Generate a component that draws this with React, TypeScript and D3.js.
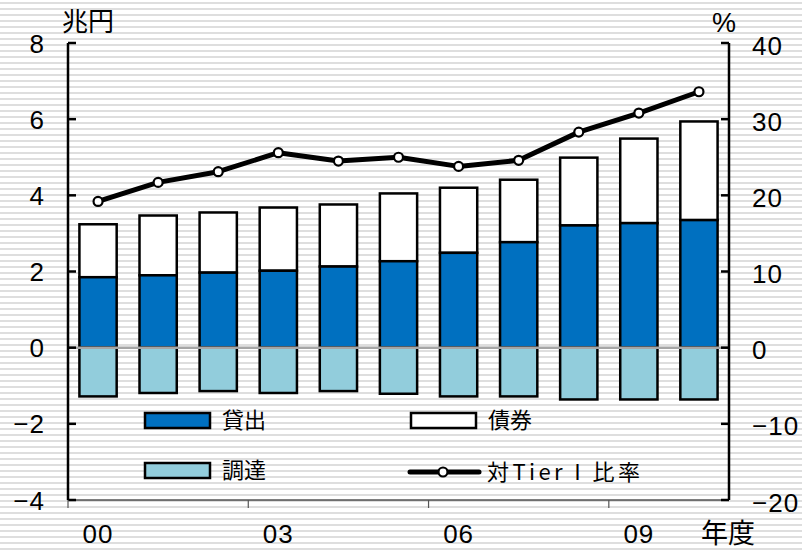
import React, { useRef, useEffect } from 'react';
import * as d3 from 'd3';

// 年度 2000-2010
const years = ['00', '01', '02', '03', '04', '05', '06', '07', '08', '09', '10'];
const lending = [1.85, 1.9, 1.97, 2.02, 2.13, 2.27, 2.49, 2.77, 3.21, 3.27, 3.35]; // 貸出
const bonds = [1.39, 1.57, 1.58, 1.66, 1.63, 1.78, 1.71, 1.64, 1.78, 2.22, 2.59]; // 債券
const funding = [-1.28, -1.19, -1.14, -1.19, -1.14, -1.21, -1.28, -1.28, -1.36, -1.36, -1.36]; // 調達
const tierRatio = [19.2, 21.7, 23.1, 25.6, 24.5, 25.0, 23.8, 24.6, 28.3, 30.8, 33.6]; // 対Tier I 比率
const leftTicks = [-4, -2, 0, 2, 4, 6, 8];
const rightTicks = [-20, -10, 0, 10, 20, 30, 40];
const xLabelYears = ['00', '03', '06', '09'];

const W = 802;
const H = 550;
const NUM_FONT = '"Liberation Sans", Arial, sans-serif';
const JP_FONT = '"Noto Sans CJK JP", sans-serif';

const App = () => {
  const ref = useRef<SVGSVGElement>(null);

  useEffect(() => {
    const svg = d3.select(ref.current);
    svg.selectAll('*').remove();

    const left = 68, right = 729, top = 43, bottom = 500;

    const x = d3.scaleBand().domain(years).range([left, right]).paddingInner(0.38).paddingOuter(0.19);
    const yL = d3.scaleLinear().domain([-4, 8]).range([bottom, top]);
    const yR = d3.scaleLinear().domain([-20, 40]).range([bottom, top]);

    const numText = (tx: number, ty: number, anchor: string, str: string) =>
      svg.append('text')
        .attr('x', tx)
        .attr('y', ty)
        .attr('text-anchor', anchor)
        .attr('font-family', NUM_FONT)
        .attr('font-size', 26)
        .attr('letter-spacing', 1)
        .text(str);
    const fmt = (t: number) => (t < 0 ? `\u2212${-t}` : `${t}`);

    // striped background
    const defs = svg.append('defs');
    const pat = defs.append('pattern')
      .attr('id', 'stripes')
      .attr('patternUnits', 'userSpaceOnUse')
      .attr('width', 10)
      .attr('height', 6);
    pat.append('rect').attr('width', 10).attr('height', 6).attr('fill', '#ffffff');
    pat.append('rect').attr('y', 2).attr('width', 10).attr('height', 2).attr('fill', '#dedede');
    svg.append('rect').attr('width', W).attr('height', H).attr('fill', 'url(#stripes)');

    // bars
    const bw = x.bandwidth();
    const g = svg.append('g');
    years.forEach((yr, i) => {
      const bx = x(yr)!;
      g.append('rect')
        .attr('x', bx).attr('width', bw)
        .attr('y', yL(lending[i] + bonds[i]))
        .attr('height', yL(lending[i]) - yL(lending[i] + bonds[i]))
        .attr('fill', '#ffffff').attr('stroke', '#000').attr('stroke-width', 2.5);
      g.append('rect')
        .attr('x', bx).attr('width', bw)
        .attr('y', yL(lending[i]))
        .attr('height', yL(0) - yL(lending[i]))
        .attr('fill', '#0070c0').attr('stroke', '#000').attr('stroke-width', 2.5);
      g.append('rect')
        .attr('x', bx).attr('width', bw)
        .attr('y', yL(0))
        .attr('height', yL(funding[i]) - yL(0))
        .attr('fill', '#92cddc').attr('stroke', '#000').attr('stroke-width', 2.5);
    });

    // zero line
    svg.append('line')
      .attr('x1', left).attr('x2', right)
      .attr('y1', yL(0)).attr('y2', yL(0))
      .attr('stroke', '#a6a6a6').attr('stroke-width', 2.5);

    // ratio line
    const line = d3.line<number>()
      .x((_, i) => x(years[i])! + bw / 2)
      .y(d => yR(d));
    svg.append('path')
      .datum(tierRatio)
      .attr('d', line)
      .attr('fill', 'none').attr('stroke', '#000').attr('stroke-width', 5)
      .attr('stroke-linejoin', 'round');
    svg.selectAll('.dot')
      .data(tierRatio)
      .enter()
      .append('circle')
      .attr('cx', (_, i) => x(years[i])! + bw / 2)
      .attr('cy', d => yR(d))
      .attr('r', 4.5)
      .attr('fill', '#fff').attr('stroke', '#000').attr('stroke-width', 2.2);

    // axes
    svg.append('line').attr('x1', left).attr('x2', right).attr('y1', bottom).attr('y2', bottom)
      .attr('stroke', '#000').attr('stroke-width', 1.2);
    svg.append('line').attr('x1', left).attr('x2', left).attr('y1', top).attr('y2', bottom)
      .attr('stroke', '#000').attr('stroke-width', 2.5);
    svg.append('line').attr('x1', right).attr('x2', right).attr('y1', top).attr('y2', bottom)
      .attr('stroke', '#000').attr('stroke-width', 2.5);

    leftTicks.forEach(t => {
      svg.append('line').attr('x1', left).attr('x2', left + 8).attr('y1', yL(t)).attr('y2', yL(t))
        .attr('stroke', '#000').attr('stroke-width', 2.5);
      numText(45, yL(t) + 9.5, 'end', fmt(t));
    });
    rightTicks.forEach(t => {
      numText(752, yR(t) + 11.5, 'start', fmt(t));
      svg.append('line').attr('x1', right - 8).attr('x2', right).attr('y1', yR(t)).attr('y2', yR(t))
        .attr('stroke', '#000').attr('stroke-width', 2.5);
    });

    // x ticks at band starts every 3 years
    xLabelYears.forEach(yr => {
      const tx = x(yr)! - x.step() * x.paddingInner() / 2;
      const px = yr === '00' ? left : tx;
      svg.append('line').attr('x1', px).attr('x2', px).attr('y1', bottom).attr('y2', bottom + 8)
        .attr('stroke', '#555').attr('stroke-width', 1.2);
      numText(x(yr)! + bw / 2, 543, 'middle', yr);
    });

    // unit labels
    svg.append('text').attr('x', 62).attr('y', 31).attr('font-family', JP_FONT).attr('font-size', 26).text('兆円');
    svg.append('text').attr('x', 712).attr('y', 32).attr('font-family', NUM_FONT).attr('font-size', 27).text('%');
    svg.append('text').attr('x', 701).attr('y', 543).attr('font-family', JP_FONT).attr('font-size', 27).text('年度');

    // legend
    const legend = svg.append('g').attr('font-family', JP_FONT).attr('font-size', 22);
    const swatch = (sx: number, sy: number, fill: string, label: string) => {
      legend.append('rect').attr('x', sx).attr('y', sy).attr('width', 65).attr('height', 15)
        .attr('fill', fill).attr('stroke', '#000').attr('stroke-width', 2.5);
      legend.append('text').attr('x', sx + 77).attr('y', sy + 15).text(label);
    };
    swatch(145, 413, '#0070c0', '貸出');
    swatch(145, 463, '#92cddc', '調達');
    swatch(411, 413, '#ffffff', '債券');
    legend.append('line').attr('x1', 410).attr('x2', 479).attr('y1', 472).attr('y2', 472)
      .attr('stroke', '#000').attr('stroke-width', 5).attr('stroke-linecap', 'round');
    legend.append('circle').attr('cx', 443).attr('cy', 472).attr('r', 4.5)
      .attr('fill', '#fff').attr('stroke', '#000').attr('stroke-width', 2.2);
    legend.append('text').attr('x', 487).attr('y', 480)
      .attr('textLength', 153).attr('lengthAdjust', 'spacing')
      .text('対Tier I 比率');

    return () => {
      d3.select(ref.current).selectAll('*').remove();
    };
  }, []);

  return (
    <svg
      ref={ref}
      width={W}
      height={H}
      style={{ position: 'absolute', left: 0, top: 0, display: 'block' }}
    />
  );
};

export default App;
